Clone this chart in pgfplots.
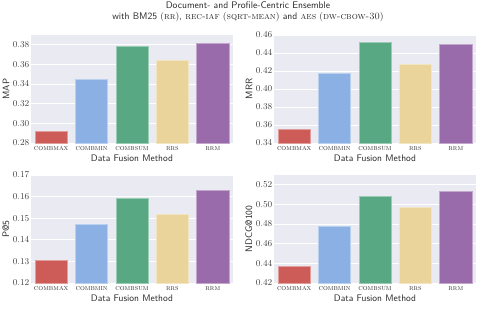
\documentclass[border=0pt]{standalone}
\usepackage{pgfplots}
\pgfplotsset{compat=1.18}
\definecolor{bg}{HTML}{EAEAF2}
\definecolor{cred}{RGB}{205,91,87}
\definecolor{cblue}{RGB}{139,176,228}
\definecolor{cgreen}{RGB}{87,168,131}
\definecolor{cyellow}{RGB}{234,212,155}
\definecolor{cpurple}{RGB}{154,107,170}
\pgfplotsset{
  sbar/.style={
    scale only axis, width=202pt, height=108pt,
    axis background/.style={fill=bg},
    axis line style={draw=none},
    major tick length=0pt,
    ymajorgrids, grid style={white, line width=0.8pt},
    xmin=-0.5, xmax=4.5,
    xtick={0,1,2,3,4},
    xticklabels={\textsc{combmax},\textsc{combmin},\textsc{combsum},\textsc{rrs},\textsc{rrm}},
    ybar, bar width=0.8, bar shift=0pt,
    tick label style={font=\fontsize{8.6}{10}\selectfont, text=black!75},
    xticklabel style={font=\fontsize{7.6}{9}\selectfont, text=black!80},
    yticklabel style={inner xsep=1.5pt, /pgf/number format/.cd, fixed, fixed zerofill, precision=2},
    xlabel={Data Fusion Method},
    label style={font=\sffamily\fontsize{9.5}{11}\selectfont, text=black!85},
    xlabel style={yshift=3pt},
    ylabel style={at={(axis description cs:-0.124,0.5)}, anchor=center},
  },
  b1/.style={fill=cred, draw=cred!60!white, line width=0.6pt},
  b2/.style={fill=cblue, draw=cblue!60!white, line width=0.6pt},
  b3/.style={fill=cgreen, draw=cgreen!60!white, line width=0.6pt},
  b4/.style={fill=cyellow, draw=cyellow!60!white, line width=0.6pt},
  b5/.style={fill=cpurple, draw=cpurple!60!white, line width=0.6pt},
}
\begin{document}
\begin{tikzpicture}
\useasboundingbox (0,0) rectangle (481pt,308pt);
\node[font=\sffamily\fontsize{9.6}{11.5}\selectfont, align=center, text=black!85] at (248pt,296pt)
 {Document- and Profile-Centric Ensemble\\ with BM25 \textrm{(\textsc{rr})}, \textrm{\textsc{rec-iaf} (\textsc{sqrt-mean})} and \textrm{\textsc{aes} (\textsc{dw-cbow-30})}};

% MAP
\begin{axis}[sbar, at={(31pt,165pt)}, anchor=south west,
  ymin=0.28, ymax=0.39, ytick={0.28,0.30,0.32,0.34,0.36,0.38}, ylabel={MAP}]
\addplot[b1] coordinates {(0,0.2922)};
\addplot[b2] coordinates {(1,0.3450)};
\addplot[b3] coordinates {(2,0.3783)};
\addplot[b4] coordinates {(3,0.3644)};
\addplot[b5] coordinates {(4,0.3817)};
\end{axis}

% MRR
\begin{axis}[sbar, at={(274pt,165pt)}, anchor=south west,
  ymin=0.34, ymax=0.46, ytick={0.34,0.36,0.38,0.40,0.42,0.44,0.46}, ylabel={MRR}]
\addplot[b1] coordinates {(0,0.3556)};
\addplot[b2] coordinates {(1,0.4176)};
\addplot[b3] coordinates {(2,0.4518)};
\addplot[b4] coordinates {(3,0.4273)};
\addplot[b5] coordinates {(4,0.4496)};
\end{axis}

% P@5
\begin{axis}[sbar, at={(31pt,25pt)}, anchor=south west,
  ymin=0.12, ymax=0.17, ytick={0.12,0.13,0.14,0.15,0.16,0.17}, ylabel={P@5}]
\addplot[b1] coordinates {(0,0.1306)};
\addplot[b2] coordinates {(1,0.1473)};
\addplot[b3] coordinates {(2,0.1592)};
\addplot[b4] coordinates {(3,0.1518)};
\addplot[b5] coordinates {(4,0.1631)};
\end{axis}

% NDCG@100
\begin{axis}[sbar, at={(274pt,25pt)}, anchor=south west,
  ymin=0.42, ymax=0.53, ytick={0.42,0.44,0.46,0.48,0.50,0.52}, ylabel={NDCG@100}]
\addplot[b1] coordinates {(0,0.4366)};
\addplot[b2] coordinates {(1,0.4782)};
\addplot[b3] coordinates {(2,0.5080)};
\addplot[b4] coordinates {(3,0.4972)};
\addplot[b5] coordinates {(4,0.5132)};
\end{axis}
\end{tikzpicture}
\end{document}
